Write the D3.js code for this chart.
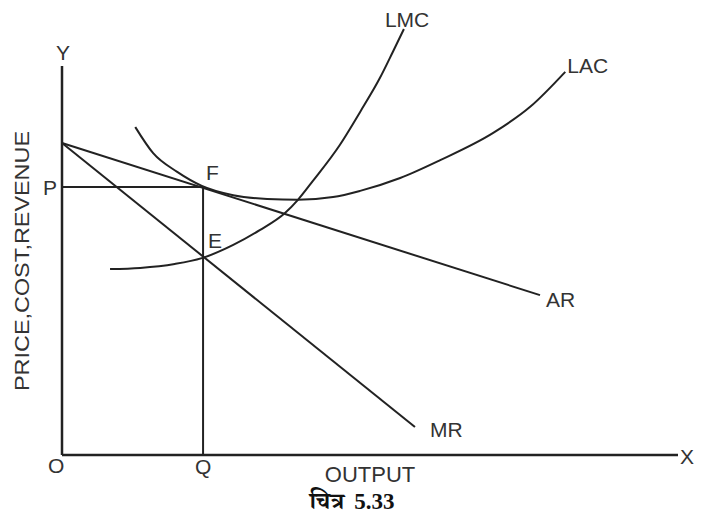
<!DOCTYPE html>
<html>
<head>
<meta charset="utf-8">
<script src="https://cdn.jsdelivr.net/npm/d3@7"></script>
<style>
  html, body { margin: 0; padding: 0; background: #fff; }
  svg text { font-family: "Liberation Sans", Arial, sans-serif; fill: #333; }
</style>
</head>
<body>
<svg id="chart" width="702" height="525"></svg>
<script>
// ---- data (output units on x, price units on y) ----
const arLine  = [[0, 80.2], [77.6, 41.1]];
const mrLine  = [[0, 80.2], [57.3, 7.2]];
const lmcCurve = [[7.8, 47.8], [12.7, 48.1], [18.3, 49.1], [22.7, 50.6], [27.8, 54.0],
  [32.1, 57.8], [36.2, 62.2], [38.3, 65.6], [40.7, 70.4], [45.1, 79.7], [48.4, 88.2],
  [51.6, 96.9], [53.7, 103.6], [55.5, 109.5]];
const lacCurve = [[11.9, 84.3], [14.8, 77.6], [18.7, 72.8], [22.7, 69.2], [27.8, 66.8],
  [33.3, 65.8], [38.3, 65.6], [44.0, 66.3], [48.4, 67.9], [54.9, 71.2], [61.4, 75.8],
  [70.0, 82.8], [76.0, 89.5], [81.7, 98.5]];
const priceP = 68.9;
const outputQ = 22.9;
const axisMax = [100, 100];
const labels = ["Y", "X", "O", "P", "Q", "F", "E", "AR", "MR", "LMC", "LAC"];
const xTitle = "OUTPUT";
const yTitle = "PRICE,COST,REVENUE";
const caption = ["चित्र", "5.33"];

// ---- scales ----
const x = d3.scaleLinear().domain([0, 100]).range([62, 678]);
const y = d3.scaleLinear().domain([0, 100]).range([455, 66]);

const svg = d3.select("#chart");
const ink = "#222";
const line = d3.line().x(d => x(d[0])).y(d => y(d[1]));
const curve = d3.line().x(d => x(d[0])).y(d => y(d[1])).curve(d3.curveMonotoneX);

// axes
svg.append("line").attr("x1", x(0)).attr("x2", x(0)).attr("y1", y(0)).attr("y2", y(axisMax[1]))
  .attr("stroke", ink).attr("stroke-width", 2.5);
svg.append("line").attr("x1", x(0)).attr("x2", x(axisMax[0])).attr("y1", y(0)).attr("y2", y(0))
  .attr("stroke", ink).attr("stroke-width", 2.5);

// P and Q guide lines
svg.append("line").attr("x1", x(0)).attr("x2", x(outputQ)).attr("y1", y(priceP)).attr("y2", y(priceP))
  .attr("stroke", ink).attr("stroke-width", 2);
svg.append("line").attr("x1", x(outputQ)).attr("x2", x(outputQ)).attr("y1", y(priceP)).attr("y2", y(0))
  .attr("stroke", ink).attr("stroke-width", 2);

// lines & curves
[[arLine, line], [mrLine, line], [lmcCurve, curve], [lacCurve, curve]].forEach(([d, gen]) => {
  svg.append("path").attr("d", gen(d)).attr("fill", "none")
    .attr("stroke", ink).attr("stroke-width", 2);
});

const fs = 21;
function label(t, px, py, anchor) {
  svg.append("text").attr("x", px).attr("y", py).attr("font-size", fs)
    .attr("text-anchor", anchor || "start").text(t);
}
// axis/point labels
label(labels[0], x(0) + 1, y(axisMax[1]) - 6, "middle");
label(labels[1], x(axisMax[0]) + 2, y(0) + 9);
label(labels[2], x(0) - 14, y(0) + 18);
label(labels[3], x(0) - 19, y(priceP) + 8);
label(labels[4], x(outputQ) - 8, y(0) + 19);
label(labels[5], x(outputQ) + 3, y(priceP) - 7);
label(labels[6], x(outputQ) + 5, y(priceP) + 61);
label(labels[7], x(arLine[1][0]) + 6, y(arLine[1][1]) + 12);
label(labels[8], x(mrLine[1][0]) + 15, y(mrLine[1][1]) + 10);
label(labels[9], x(lmcCurve[lmcCurve.length - 1][0]) - 19, y(lmcCurve[lmcCurve.length - 1][1]) - 2);
label(labels[10], x(lacCurve[lacCurve.length - 1][0]) + 2, y(lacCurve[lacCurve.length - 1][1]) + 1);

// titles
svg.append("text").attr("x", 370).attr("y", 482).attr("font-size", 22)
  .attr("text-anchor", "middle").text(xTitle);
svg.append("text").attr("transform", "translate(29,261) rotate(-90)").attr("font-size", 21)
  .attr("text-anchor", "middle").attr("textLength", 260).attr("lengthAdjust", "spacingAndGlyphs")
  .text(yTitle);

// caption
const cap = svg.append("text").attr("x", 352).attr("y", 509).attr("text-anchor", "middle")
  .style("font-family", "'Noto Serif Devanagari','Noto Sans Devanagari','Lohit Devanagari','Liberation Serif',serif")
  .style("font-weight", "bold").style("fill", "#111").attr("font-size", 23);
cap.append("tspan").text(caption[0]);
cap.append("tspan").attr("dx", 10).style("font-family", "'Liberation Serif','Times New Roman',serif").text(caption[1]);
</script>
</body>
</html>
